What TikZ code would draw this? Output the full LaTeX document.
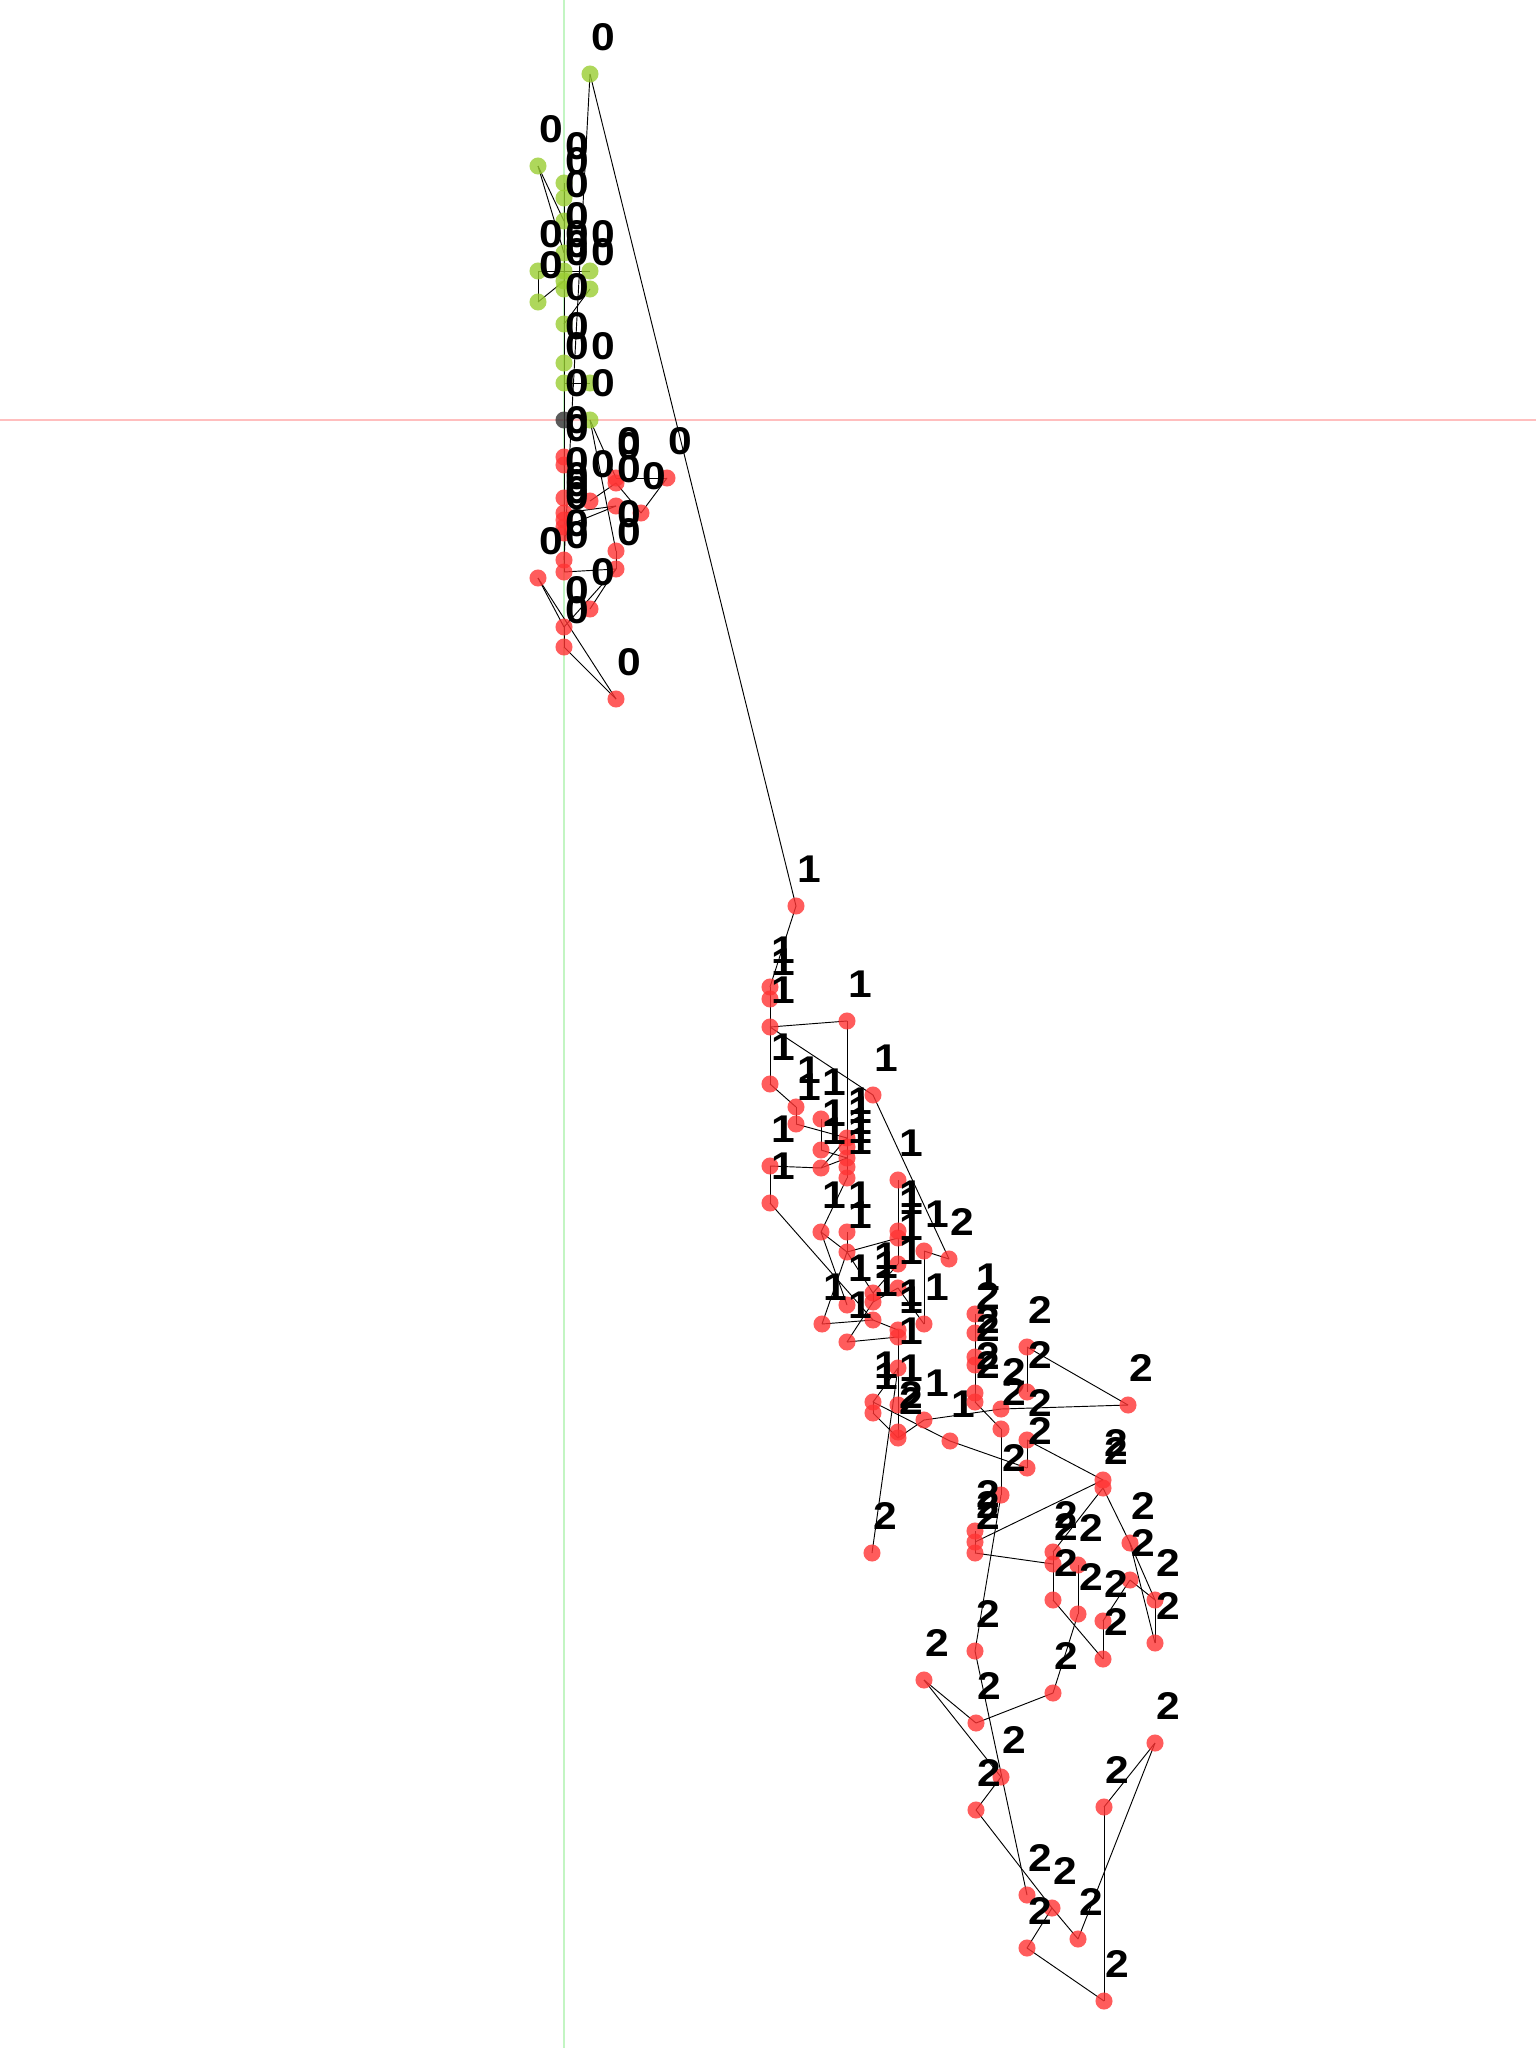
\documentclass[tikz,border=0pt]{standalone}
\usepackage{fontspec}
\setmainfont{Liberation Sans}
\newfontfamily\labfont{Liberation Sans}[FakeStretch=1.1]
\usetikzlibrary{backgrounds}
\definecolor{gcol}{RGB}{154,205,50}
\definecolor{rcol}{RGB}{255,51,51}
\definecolor{kcol}{RGB}{50,50,50}
\definecolor{vaxis}{RGB}{195,245,195}
\definecolor{haxis}{RGB}{255,190,190}
\begin{document}
\begin{tikzpicture}[x=0.375pt,y=-0.375pt,
  dot/.style={circle,inner sep=0pt,minimum size=6.4pt,draw=none,fill opacity=0.8},
  gn/.style={dot,fill=gcol},
  rn/.style={dot,fill=rcol},
  kn/.style={dot,fill=kcol},
  lab/.style={font=\labfont\fontsize{14.5}{14.5}\selectfont\bfseries,xshift=4.9pt,yshift=13.9pt,inner sep=0pt,opacity=1,text opacity=1,fill opacity=1},
  edge/.style={draw=black,line width=0.35pt}]
\useasboundingbox (0,0) rectangle (1536,2048);
% nodes
\foreach \n/\x/\y in {g1/590/74,g2/538/166,g3/564/183,g4/564/198,g5/564/221,g6/564/253,g7/538/271,g8/564/271,g9/590/271,g10/564/281,g11/564/289,g12/590/289,g13/538/302,g14/564/324,g15/564/363,g16/564/383,g17/590/383,g18/590/420}
  \node[gn,label={[lab]center:0}] (\n) at (\x,\y) {};
\node[kn,label={[lab]center:0}] (k1) at (564,420) {};
\foreach \n/\x/\y/\l in {r1/564/457/0,r2/564/465/0,r3/616/478/0,r4/616/483/0,r5/667/478/0,r6/564/498/0,r7/590/501/0,r8/616/506/0,r9/641/513/0,r10/564/513/0,r11/564/520/0,r12/564/527/0,r13/564/533/0,r14/616/551/0,r15/564/560/0,r16/564/572/0,r17/616/569/0,r18/538/578/0,r19/590/609/0,r20/564/627/0,r21/564/647/0,r22/616/699/0,
 m1/796/906/1,m2/770/987/1,m3/770/999/1,m4/770/1027/1,m5/847/1021/1,m6/770/1084/1,m7/873/1095/1,m8/796/1107/1,m9/796/1124/1,m10/821/1119/1,m11/821/1150/1,m12/847/1138/1,m13/847/1147/1,m14/847/1158/1,m15/847/1167/1,m16/847/1178/1,m17/770/1166/1,m18/821/1168/1,m19/770/1203/1,m20/898/1180/1,m21/821/1232/1,m22/847/1232/1,m23/847/1252/1,m24/898/1231/1,m25/898/1238/1,m26/924/1251/1,m27/949/1259/2,m28/898/1264/1,m29/873/1293/1,m30/873/1302/1,m31/898/1288/1,m32/847/1305/1,m33/822/1324/1,m34/873/1320/1,m35/924/1324/1,m36/898/1330/1,m37/898/1337/1,m38/847/1342/1,m39/898/1368/1,m40/873/1402/1,m41/873/1413/1,m42/898/1405/1,m43/924/1420/1,m44/898/1432/2,m45/898/1438/2,m46/950/1441/1,m47/872/1553/2,m48/975/1314/1,
 b1/975/1333/2,b2/975/1357/2,b3/975/1365/2,b4/975/1393/2,b5/975/1402/2,b6/1001/1409/2,b7/1001/1429/2,b8/1027/1347/2,b9/1027/1392/2,b10/1027/1440/2,b11/1027/1468/2,b12/1001/1495/2,b13/1128/1405/2,b14/1103/1480/2,b15/1103/1488/2,b16/975/1531/2,b17/975/1542/2,b18/975/1553/2,b19/1053/1552/2,b20/1053/1564/2,b21/1078/1565/2,b22/1130/1543/2,b23/1130/1580/2,b24/1155/1600/2,b25/1053/1600/2,b26/1078/1614/2,b27/1103/1621/2,b28/1103/1659/2,b29/1155/1643/2,b30/975/1651/2,b31/924/1680/2,b32/1053/1693/2,b33/976/1723/2,b34/1155/1743/2,b35/1001/1777/2,b36/976/1810/2,b37/1104/1807/2,b38/1027/1895/2,b39/1052/1908/2,b40/1078/1939/2,b41/1027/1948/2,b42/1104/2001/2}
  \node[rn,label={[lab]center:\l}] (\n) at (\x,\y) {};
\begin{pgfonlayer}{background}
\draw[vaxis,line width=0.5pt] (564,0) -- (564,2048);
\draw[haxis,line width=0.5pt] (0,420) -- (1536,420);
\foreach \a/\b in {g1/m1,g1/r15,g2/g5,g2/g6,g7/g8,g7/g13,g13/g10,g9/g8,g12/g14,g17/g16,g18/r3,g18/r14,
 g3/g4,g4/g5,g5/g6,g6/g8,g8/g10,g10/g11,g11/g14,g14/g15,g15/g16,g16/k1,k1/r1,r1/r2,r2/r6,r6/r10,r10/r11,r11/r12,r12/r13,r13/r15,r15/r16,
 r3/r5,r5/r9,r4/r9,r4/r7,r10/r8,r12/r8,r16/r17,r14/r17,r20/r17,r19/r17,r18/r20,r18/r22,r21/r22,r20/r21,
 m1/m2,m2/m3,m3/m4,m4/m5,m4/m6,m4/m7,m5/m12,m6/m8,m8/m9,m9/m12,m10/m11,m11/m14,m12/m13,m13/m14,m14/m15,m15/m16,m18/m12,m18/m14,m17/m18,m17/m19,m19/m34,
 m16/m21,m21/m23,m22/m23,m23/m25,m23/m29,m23/m33,m20/m24,m7/m27,m26/m27,m26/m35,m28/m29,m28/m25,m31/m35,m29/m30,m30/m38,m31/m30,m34/m36,m33/m34,m38/m37,m21/m32,
 m36/m37,m37/m39,m39/m42,m42/m44,m44/m45,m39/m40,m40/m41,m41/m45,m45/m43,m43/b6,m40/m46,m46/b11,m39/m47,
 m48/b1,b1/b2,b2/b3,b3/b4,b4/b5,b8/b13,b8/b9,b6/b13,b5/b7,b7/b12,b10/b11,b10/b14,
 b14/b17,b15/b19,b15/b22,b22/b24,b18/b20,b19/b20,b20/b25,b21/b26,b25/b28,b27/b28,b27/b23,b23/b24,b24/b29,b22/b29,b16/b17,b17/b18,
 b12/b30,b30/b38,b26/b32,b32/b33,b31/b33,b31/b35,b35/b36,b36/b39,b39/b40,b39/b41,b41/b42,b37/b42,b34/b37,b34/b40}
  \draw[edge] (\a.center) -- (\b.center);
\end{pgfonlayer}
\end{tikzpicture}
\end{document}
